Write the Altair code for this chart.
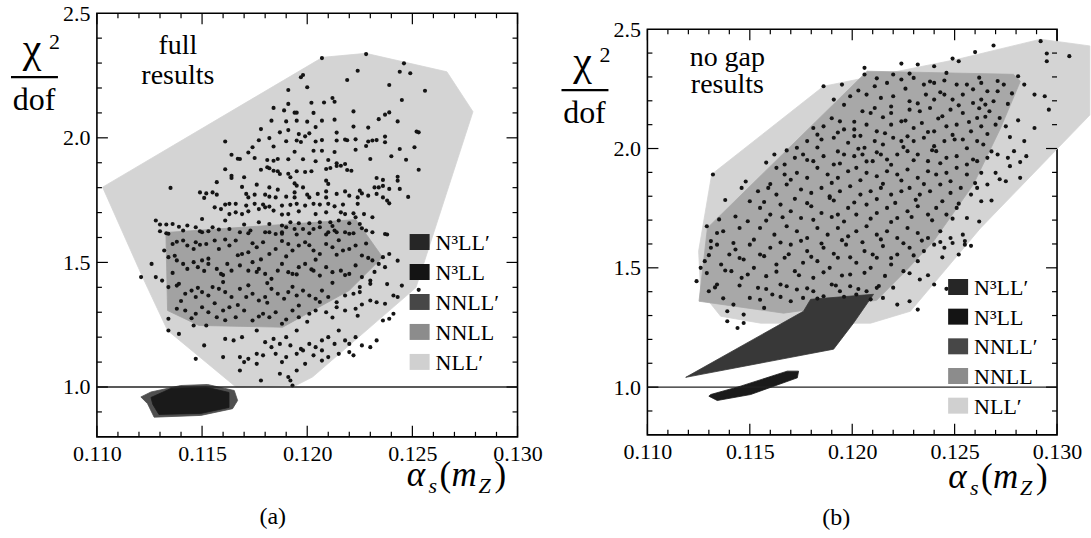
import altair as alt
import pandas as pd

# ---------------- axis ticks / labels ----------------
X_LABELS = [0.110, 0.115, 0.120, 0.125, 0.130]
X_MINOR = [0.111, 0.112, 0.113, 0.114, 0.116, 0.117, 0.118, 0.119, 0.121, 0.122,
           0.123, 0.124, 0.126, 0.127, 0.128, 0.129]
Y_LABELS = [1.0, 1.5, 2.0, 2.5]
Y_MAJOR = [1.0, 1.5, 2.0]
Y_MINOR = [0.9, 1.1, 1.2, 1.3, 1.4, 1.6, 1.7, 1.8, 1.9, 2.1, 2.2, 2.3, 2.4]

LEGEND_NAMES = ["N³LL′", "N³LL", "NNLL′", "NNLL", "NLL′"]
LEGEND_COLORS = ["#262626", "#141414", "#474747", "#8c8c8c", "#d0d0d0"]

# ---------------- panel (a): region outlines ----------------
A_NLLP_X = [0.11027, 0.12073, 0.12279, 0.12664, 0.12788, 0.12517, 0.12025, 0.11946, 0.11661, 0.11336, 0.11217]
A_NLLP_Y = [1.802, 2.323, 2.339, 2.265, 2.105, 1.399, 1.040, 1.006, 1.000, 1.227, 1.441]
A_NNLL_X = [0.11328, 0.12231, 0.12358, 0.12199, 0.11883, 0.11485, 0.11336]
A_NNLL_Y = [1.620, 1.672, 1.521, 1.387, 1.240, 1.247, 1.307]
A_NNLLP_X = [0.11209, 0.11257, 0.11399, 0.11526, 0.11653, 0.11669, 0.11645, 0.11494, 0.11272, 0.11241]
A_NNLLP_Y = [0.960, 0.980, 1.006, 1.010, 0.986, 0.946, 0.913, 0.886, 0.879, 0.933]
A_N3LL_X = [0.11257, 0.11352, 0.11518, 0.11628, 0.11628, 0.11494, 0.11295, 0.11266]
A_N3LL_Y = [0.958, 0.994, 1.000, 0.978, 0.918, 0.894, 0.890, 0.930]

# ---------------- panel (a): scan points ----------------
A_POINTS = [
    (0.1207, 2.320), (0.1228, 2.336), (0.1246, 2.299), (0.1244, 2.265), (0.1249, 2.259), (0.1224, 2.269),
    (0.1198, 2.252), (0.1197, 2.243), (0.1239, 2.212), (0.1200, 2.203), (0.1191, 2.192), (0.1212, 2.160),
    (0.1213, 2.145), (0.1191, 2.136), (0.1202, 2.141), (0.1208, 2.142), (0.1222, 2.106), (0.1239, 2.102),
    (0.1237, 2.093), (0.1234, 2.075), (0.1243, 2.066), (0.1184, 2.120), (0.1189, 2.110), (0.1194, 2.101),
    (0.1195, 2.101), (0.1203, 2.100), (0.1183, 2.069), (0.1190, 2.066), (0.1195, 2.069), (0.1200, 2.065),
    (0.1207, 2.069), (0.1222, 2.045), (0.1214, 2.021), (0.1252, 2.025), (0.1253, 2.022),
    (0.1178, 2.035), (0.1191, 2.031), (0.1196, 2.015), (0.1199, 2.006), (0.1201, 2.018), (0.1161, 1.985),
    (0.1182, 1.999), (0.1177, 1.990), (0.1190, 1.986), (0.1195, 1.989), (0.1197, 1.983), (0.1204, 1.985),
    (0.1207, 1.991), (0.1214, 1.989), (0.1218, 1.993), (0.1219, 1.990), (0.1223, 1.994), (0.1229, 1.985),
    (0.1231, 1.989), (0.1233, 1.991), (0.1237, 2.005), (0.1174, 1.962), (0.1184, 1.965), (0.1194, 1.944),
    (0.1203, 1.948), (0.1207, 1.948), (0.1213, 1.943), (0.1223, 1.952), (0.1228, 1.967), (0.1237, 1.982),
    (0.1244, 1.955), (0.1251, 1.962), (0.1164, 1.932), (0.1167, 1.916), (0.1168, 1.915), (0.1175, 1.919),
    (0.1181, 1.911), (0.1184, 1.908), (0.1186, 1.915), (0.1191, 1.914), (0.1198, 1.914), (0.1204, 1.906),
    (0.1210, 1.911), (0.1214, 1.898), (0.1216, 1.888), (0.1218, 1.895), (0.1230, 1.915), (0.1240, 1.926),
    (0.1247, 1.912), (0.1161, 1.874), (0.1164, 1.848), (0.1164, 1.839), (0.1170, 1.842), (0.1178, 1.872),
    (0.1181, 1.882), (0.1182, 1.878), (0.1184, 1.868), (0.1186, 1.866), (0.1187, 1.855), (0.1191, 1.856),
    (0.1195, 1.866), (0.1199, 1.863), (0.1202, 1.866), (0.1209, 1.875), (0.1211, 1.879), (0.1214, 1.887),
    (0.1219, 1.871), (0.1221, 1.868), (0.1233, 1.839), (0.1236, 1.831), (0.1243, 1.844), (0.1135, 1.799),
    (0.1176, 1.812), (0.1182, 1.801), (0.1186, 1.792), (0.1194, 1.817), (0.1195, 1.808), (0.1198, 1.801),
    (0.1209, 1.828), (0.1210, 1.815), (0.1218, 1.785), (0.1225, 1.788), (0.1232, 1.801), (0.1234, 1.801),
    (0.1236, 1.807), (0.1239, 1.795), (0.1243, 1.828), (0.1244, 1.795), (0.1149, 1.781), (0.1152, 1.777),
    (0.1155, 1.781), (0.1151, 1.759), (0.1157, 1.772), (0.1171, 1.775), (0.1172, 1.761), (0.1175, 1.772),
    (0.1180, 1.772), (0.1182, 1.764), (0.1185, 1.761), (0.1190, 1.764), (0.1194, 1.781), (0.1194, 1.761),
    (0.1200, 1.772), (0.1201, 1.761), (0.1205, 1.775), (0.1209, 1.785), (0.1209, 1.761), (0.1214, 1.775),
    (0.1220, 1.768), (0.1224, 1.761), (0.1226, 1.777), (0.1229, 1.768), (0.1233, 1.775), (0.1236, 1.761),
    (0.1238, 1.748), (0.1161, 1.732), (0.1163, 1.735), (0.1166, 1.735), (0.1171, 1.728), (0.1175, 1.735),
    (0.1179, 1.732), (0.1182, 1.724), (0.1188, 1.728), (0.1192, 1.731), (0.1195, 1.735), (0.1199, 1.728),
    (0.1203, 1.735), (0.1206, 1.732), (0.1210, 1.735), (0.1213, 1.725), (0.1217, 1.732), (0.1224, 1.735),
    (0.1239, 1.737), (0.1156, 1.721), (0.1159, 1.714), (0.1163, 1.694), (0.1166, 1.701), (0.1169, 1.694),
    (0.1172, 1.705), (0.1177, 1.714), (0.1180, 1.721), (0.1184, 1.708), (0.1188, 1.692), (0.1191, 1.694),
    (0.1196, 1.705), (0.1204, 1.694), (0.1209, 1.701), (0.1216, 1.701), (0.1218, 1.694), (0.1222, 1.697),
    (0.1223, 1.681), (0.1227, 1.694), (0.1231, 1.681), (0.1128, 1.668), (0.1130, 1.652), (0.1133, 1.652),
    (0.1136, 1.654), (0.1143, 1.648), (0.1147, 1.641), (0.1150, 1.674), (0.1153, 1.625), (0.1155, 1.641),
    (0.1161, 1.668), (0.1177, 1.661), (0.1182, 1.654), (0.1188, 1.648), (0.1192, 1.661), (0.1196, 1.657),
    (0.1201, 1.657), (0.1206, 1.661), (0.1211, 1.661), (0.1215, 1.668), (0.1220, 1.657), (0.1225, 1.654),
    (0.1130, 1.625), (0.1133, 1.617), (0.1149, 1.625), (0.1163, 1.634), (0.1168, 1.621), (0.1173, 1.628),
    (0.1182, 1.621), (0.1185, 1.614), (0.1188, 1.621), (0.1194, 1.634), (0.1198, 1.634), (0.1203, 1.634),
    (0.1206, 1.641), (0.1210, 1.621), (0.1213, 1.628), (0.1218, 1.621), (0.1222, 1.617), (0.1228, 1.628),
    (0.1231, 1.621), (0.1237, 1.614),
    (0.1134, 1.615), (0.1141, 1.628), (0.1150, 1.621), (0.1172, 1.617), (0.1180, 1.621), (0.1188, 1.615),
    (0.1195, 1.612), (0.1201, 1.617), (0.1209, 1.612), (0.1214, 1.621), (0.1220, 1.615), (0.1238, 1.612),
    (0.1126, 1.494), (0.1121, 1.441), (0.1128, 1.441), (0.1132, 1.548), (0.1136, 1.574), (0.1141, 1.588),
    (0.1143, 1.568), (0.1146, 1.554), (0.1147, 1.581), (0.1152, 1.574), (0.1156, 1.588), (0.1158, 1.554),
    (0.1163, 1.568), (0.1166, 1.588), (0.1169, 1.534), (0.1172, 1.541), (0.1176, 1.561), (0.1179, 1.581),
    (0.1182, 1.534), (0.1185, 1.554), (0.1191, 1.574), (0.1193, 1.548), (0.1196, 1.568), (0.1199, 1.581),
    (0.1203, 1.548), (0.1206, 1.534), (0.1209, 1.574), (0.1212, 1.561), (0.1217, 1.548), (0.1220, 1.554),
    (0.1223, 1.568), (0.1226, 1.528), (0.1231, 1.508), (0.1236, 1.521), (0.1239, 1.534), (0.1134, 1.521),
    (0.1138, 1.508), (0.1141, 1.494), (0.1143, 1.474), (0.1146, 1.501), (0.1148, 1.481), (0.1150, 1.508),
    (0.1153, 1.494), (0.1157, 1.474), (0.1159, 1.454), (0.1162, 1.494), (0.1164, 1.467), (0.1168, 1.488),
    (0.1172, 1.467), (0.1174, 1.501), (0.1177, 1.474), (0.1180, 1.454), (0.1183, 1.434), (0.1186, 1.467),
    (0.1188, 1.494), (0.1191, 1.461), (0.1193, 1.454), (0.1196, 1.481), (0.1199, 1.494), (0.1203, 1.467),
    (0.1206, 1.447), (0.1209, 1.481), (0.1212, 1.461), (0.1216, 1.467), (0.1220, 1.454), (0.1223, 1.488),
    (0.1226, 1.441), (0.1230, 1.427), (0.1234, 1.494), (0.1237, 1.481), (0.1131, 1.427), (0.1134, 1.401),
    (0.1138, 1.407), (0.1142, 1.374), (0.1145, 1.387), (0.1147, 1.361), (0.1150, 1.381), (0.1153, 1.367),
    (0.1155, 1.401), (0.1158, 1.394), (0.1161, 1.381), (0.1164, 1.361), (0.1168, 1.394), (0.1171, 1.361),
    (0.1174, 1.374), (0.1177, 1.347), (0.1180, 1.361), (0.1183, 1.394), (0.1186, 1.374), (0.1189, 1.354),
    (0.1191, 1.381), (0.1195, 1.367), (0.1198, 1.387), (0.1201, 1.367), (0.1204, 1.354), (0.1207, 1.387),
    (0.1210, 1.361), (0.1214, 1.340), (0.1218, 1.367), (0.1222, 1.374), (0.1225, 1.381), (0.1230, 1.414),
    (0.1233, 1.340), (0.1237, 1.334), (0.1241, 1.367), (0.1243, 1.361), (0.1245, 1.407), (0.1253, 1.390),
    (0.1138, 1.314), (0.1142, 1.307), (0.1147, 1.294), (0.1150, 1.320), (0.1153, 1.300), (0.1157, 1.280),
    (0.1160, 1.307), (0.1163, 1.320), (0.1166, 1.280), (0.1170, 1.307), (0.1174, 1.267), (0.1179, 1.294),
    (0.1182, 1.280), (0.1185, 1.300), (0.1188, 1.254), (0.1193, 1.307), (0.1196, 1.280), (0.1201, 1.294),
    (0.1204, 1.307), (0.1209, 1.300), (0.1214, 1.320), (0.1218, 1.307), (0.1223, 1.314), (0.1230, 1.347),
    (0.1236, 1.267), (0.1239, 1.274), (0.1241, 1.294), (0.1134, 1.227), (0.1134, 1.274), (0.1139, 1.213),
    (0.1146, 1.247), (0.1151, 1.167), (0.1152, 1.247), (0.1161, 1.193), (0.1165, 1.187), (0.1169, 1.200),
    (0.1176, 1.227), (0.1180, 1.180), (0.1184, 1.193), (0.1187, 1.173), (0.1190, 1.200), (0.1192, 1.167),
    (0.1195, 1.227), (0.1197, 1.153), (0.1201, 1.173), (0.1204, 1.160), (0.1207, 1.187), (0.1210, 1.200),
    (0.1213, 1.173), (0.1215, 1.227), (0.1218, 1.187), (0.1220, 1.173), (0.1223, 1.200), (0.1226, 1.167),
    (0.1230, 1.160), (0.1233, 1.187), (0.1147, 1.113), (0.1160, 1.120), (0.1168, 1.120), (0.1170, 1.100),
    (0.1172, 1.113), (0.1176, 1.133), (0.1179, 1.127), (0.1183, 1.160), (0.1185, 1.133), (0.1188, 1.100),
    (0.1190, 1.120), (0.1195, 1.133), (0.1198, 1.147), (0.1203, 1.127), (0.1207, 1.147), (0.1210, 1.120),
    (0.1215, 1.133), (0.1220, 1.140), (0.1222, 1.127), (0.1168, 1.066), (0.1176, 1.093), (0.1178, 1.026),
    (0.1187, 1.053), (0.1191, 1.040), (0.1192, 1.026), (0.1195, 1.066), (0.1199, 1.093), (0.1207, 1.106),
    (0.1193, 1.006),
    (0.1139, 1.643), (0.1158, 1.632), (0.1170, 1.652), (0.1190, 1.641), (0.1212, 1.646), (0.1226, 1.637),
    (0.1138, 1.583), (0.1149, 1.571), (0.1161, 1.592), (0.1174, 1.577), (0.1188, 1.586), (0.1201, 1.569),
    (0.1215, 1.589), (0.1228, 1.576), (0.1137, 1.527), (0.1153, 1.515), (0.1167, 1.529), (0.1178, 1.512),
    (0.1190, 1.524), (0.1204, 1.511), (0.1214, 1.531), (0.1229, 1.518), (0.1243, 1.507), (0.1136, 1.458),
    (0.1151, 1.466), (0.1160, 1.449), (0.1176, 1.462), (0.1195, 1.452), (0.1202, 1.472), (0.1218, 1.449),
    (0.1232, 1.462), (0.1139, 1.414), (0.1148, 1.398), (0.1160, 1.421), (0.1172, 1.408), (0.1181, 1.417),
    (0.1193, 1.402), (0.1212, 1.418), (0.1225, 1.401), (0.1238, 1.413), (0.1140, 1.345), (0.1156, 1.336),
    (0.1167, 1.329), (0.1181, 1.338), (0.1196, 1.327), (0.1206, 1.341), (0.1226, 1.331), (0.1145, 1.276),
    (0.1161, 1.268), (0.1177, 1.283), (0.1190, 1.271), (0.1200, 1.262), (0.1212, 1.279), (0.1224, 1.286),
    (0.1172, 1.941), (0.1187, 2.022), (0.1213, 2.073), (0.1229, 2.041), (0.1245, 2.152), (0.1256, 2.189),
    (0.1219, 2.232), (0.1204, 2.043), (0.1192, 1.842), (0.1169, 1.803), (0.1157, 1.822), (0.1253, 1.872),
    (0.1248, 1.763),
]

# ---------------- panel (b): region outlines ----------------
B_NLLP_X = [0.11314, 0.11860, 0.12514, 0.12919, 0.13160, 0.13160, 0.12626, 0.12284, 0.12090, 0.11553, 0.11358, 0.11260, 0.11250]
B_NLLP_Y = [1.892, 2.261, 2.374, 2.458, 2.430, 2.140, 1.666, 1.318, 1.268, 1.268, 1.297, 1.402, 1.570]
B_NNLL_X = [0.11252, 0.11293, 0.12073, 0.12787, 0.12821, 0.12724, 0.12592, 0.12397, 0.12260, 0.12119, 0.11665]
B_NNLL_Y = [1.360, 1.667, 2.324, 2.311, 2.282, 2.085, 1.850, 1.611, 1.486, 1.364, 1.310]
B_NNLLP_X = [0.11187, 0.11762, 0.11797, 0.12104, 0.12006, 0.11909]
B_NNLLP_Y = [1.041, 1.318, 1.368, 1.389, 1.268, 1.159]
B_N3LL_X = [0.11300, 0.11341, 0.11504, 0.11732, 0.11738, 0.11683, 0.11455, 0.11309]
B_N3LL_Y = [0.962, 0.944, 0.969, 1.039, 1.067, 1.067, 1.004, 0.969]

# ---------------- panel (b): scan points ----------------
B_POINTS = [
    (0.1269, 2.432), (0.1292, 2.450), (0.1260, 2.404), (0.1295, 2.398), (0.1295, 2.366), (0.1306, 2.387),
    (0.1249, 2.377), (0.1252, 2.366), (0.1224, 2.356), (0.1232, 2.352), (0.1240, 2.345), (0.1206, 2.338),
    (0.1206, 2.310), (0.1220, 2.310), (0.1228, 2.314), (0.1246, 2.317), (0.1281, 2.303), (0.1284, 2.268),
    (0.1195, 2.268), (0.1186, 2.261), (0.1211, 2.261), (0.1217, 2.275), (0.1224, 2.289), (0.1230, 2.296),
    (0.1235, 2.268), (0.1240, 2.275), (0.1245, 2.285), (0.1251, 2.268), (0.1256, 2.268), (0.1263, 2.275),
    (0.1266, 2.240), (0.1271, 2.240), (0.1274, 2.268), (0.1191, 2.205), (0.1199, 2.219), (0.1207, 2.226),
    (0.1214, 2.212), (0.1220, 2.219), (0.1228, 2.198), (0.1236, 2.226), (0.1240, 2.205), (0.1245, 2.226),
    (0.1249, 2.205), (0.1254, 2.226), (0.1259, 2.191), (0.1263, 2.205), (0.1265, 2.184), (0.1269, 2.198),
    (0.1289, 2.226), (0.1294, 2.219), (0.1296, 2.163), (0.1205, 2.156), (0.1209, 2.149), (0.1211, 2.170),
    (0.1219, 2.149), (0.1228, 2.163), (0.1233, 2.156), (0.1238, 2.170), (0.1244, 2.135), (0.1248, 2.163),
    (0.1254, 2.149), (0.1261, 2.128), (0.1267, 2.156), (0.1272, 2.128), (0.1181, 2.086), (0.1186, 2.093),
    (0.1194, 2.114), (0.1196, 2.080), (0.1201, 2.080), (0.1207, 2.100), (0.1212, 2.072), (0.1219, 2.100),
    (0.1224, 2.114), (0.1230, 2.086), (0.1234, 2.107), (0.1240, 2.072), (0.1246, 2.093), (0.1251, 2.100),
    (0.1258, 2.072), (0.1263, 2.093), (0.1270, 2.100), (0.1275, 2.093), (0.1289, 2.086), (0.1173, 2.003),
    (0.1178, 2.031), (0.1185, 2.038), (0.1191, 2.045), (0.1198, 2.024), (0.1201, 2.052), (0.1206, 2.003),
    (0.1211, 2.031), (0.1215, 2.017), (0.1220, 2.045), (0.1224, 2.031), (0.1230, 2.031), (0.1235, 2.045),
    (0.1240, 2.010), (0.1245, 2.031), (0.1250, 2.038), (0.1254, 2.038), (0.1261, 2.031), (0.1264, 2.017),
    (0.1279, 1.989), (0.1284, 2.031), (0.1285, 1.968), (0.1162, 1.975), (0.1167, 1.933), (0.1172, 1.961),
    (0.1176, 1.975), (0.1181, 1.947), (0.1186, 1.968), (0.1191, 1.933), (0.1196, 1.975), (0.1201, 1.968),
    (0.1205, 1.975), (0.1210, 1.947), (0.1214, 1.975), (0.1217, 1.954), (0.1222, 1.975), (0.1227, 1.989),
    (0.1232, 1.975), (0.1237, 1.947), (0.1241, 1.989), (0.1246, 1.961), (0.1251, 1.968), (0.1256, 1.933),
    (0.1261, 1.947), (0.1266, 1.961), (0.1271, 1.975), (0.1276, 1.961), (0.1277, 1.926), (0.1146, 1.835),
    (0.1132, 1.891), (0.1163, 1.919), (0.1167, 1.891), (0.1173, 1.898), (0.1178, 1.877), (0.1183, 1.919),
    (0.1188, 1.891), (0.1193, 1.877), (0.1198, 1.905), (0.1202, 1.919), (0.1207, 1.898), (0.1212, 1.884),
    (0.1217, 1.905), (0.1222, 1.891), (0.1227, 1.912), (0.1232, 1.877), (0.1237, 1.905), (0.1241, 1.891),
    (0.1246, 1.898), (0.1251, 1.919), (0.1256, 1.891), (0.1263, 1.898), (0.1266, 1.849), (0.1270, 1.898),
    (0.1275, 1.863), (0.1282, 1.877), (0.1154, 1.821), (0.1159, 1.835), (0.1163, 1.807), (0.1168, 1.849),
    (0.1175, 1.828), (0.1180, 1.814), (0.1185, 1.835), (0.1189, 1.800), (0.1194, 1.821), (0.1199, 1.842),
    (0.1204, 1.807), (0.1209, 1.821), (0.1214, 1.835), (0.1219, 1.807), (0.1224, 1.821), (0.1228, 1.835),
    (0.1233, 1.807), (0.1238, 1.821), (0.1243, 1.849), (0.1248, 1.814), (0.1253, 1.835), (0.1258, 1.807),
    (0.1263, 1.779), (0.1261, 1.835), (0.1129, 1.674), (0.1134, 1.646), (0.1137, 1.653), (0.1145, 1.667),
    (0.1150, 1.779), (0.1155, 1.751), (0.1160, 1.723), (0.1165, 1.765), (0.1170, 1.737), (0.1175, 1.709),
    (0.1180, 1.758), (0.1185, 1.730), (0.1189, 1.793), (0.1193, 1.723), (0.1198, 1.751), (0.1202, 1.723),
    (0.1207, 1.765), (0.1212, 1.730), (0.1217, 1.751), (0.1222, 1.709), (0.1227, 1.737), (0.1232, 1.758),
    (0.1237, 1.723), (0.1241, 1.751), (0.1246, 1.723), (0.1251, 1.751), (0.1256, 1.709), (0.1254, 1.639),
    (0.1149, 1.695), (0.1155, 1.667), (0.1162, 1.639), (0.1168, 1.674), (0.1173, 1.653), (0.1178, 1.625),
    (0.1183, 1.667), (0.1188, 1.639), (0.1193, 1.667), (0.1198, 1.632), (0.1202, 1.653), (0.1207, 1.674),
    (0.1212, 1.639), (0.1217, 1.653), (0.1222, 1.625), (0.1227, 1.667), (0.1232, 1.646), (0.1237, 1.625),
    (0.1243, 1.653), (0.1248, 1.625),
    (0.1126, 1.500), (0.1124, 1.444), (0.1128, 1.528), (0.1131, 1.584), (0.1134, 1.597), (0.1136, 1.514),
    (0.1140, 1.556), (0.1141, 1.486), (0.1143, 1.577), (0.1146, 1.458), (0.1147, 1.535), (0.1150, 1.597),
    (0.1152, 1.500), (0.1155, 1.556), (0.1158, 1.465), (0.1160, 1.584), (0.1163, 1.514), (0.1167, 1.542),
    (0.1170, 1.597), (0.1172, 1.486), (0.1176, 1.521), (0.1178, 1.570), (0.1181, 1.458), (0.1183, 1.528),
    (0.1186, 1.584), (0.1189, 1.500), (0.1193, 1.542), (0.1197, 1.597), (0.1199, 1.472), (0.1202, 1.521),
    (0.1206, 1.570), (0.1209, 1.500), (0.1212, 1.542), (0.1215, 1.591), (0.1219, 1.514), (0.1222, 1.556),
    (0.1225, 1.486), (0.1228, 1.584), (0.1232, 1.528), (0.1235, 1.570), (0.1240, 1.597), (0.1245, 1.584),
    (0.1249, 1.604), (0.1255, 1.612), (0.1255, 1.597), (0.1130, 1.402), (0.1134, 1.430), (0.1139, 1.318),
    (0.1142, 1.346), (0.1147, 1.304), (0.1150, 1.374), (0.1154, 1.416), (0.1157, 1.332), (0.1161, 1.388),
    (0.1165, 1.430), (0.1170, 1.360), (0.1173, 1.409), (0.1176, 1.374), (0.1181, 1.402), (0.1186, 1.381),
    (0.1190, 1.430), (0.1194, 1.402), (0.1199, 1.423), (0.1202, 1.388), (0.1207, 1.402), (0.1212, 1.416),
    (0.1215, 1.374), (0.1222, 1.346), (0.1228, 1.360), (0.1232, 1.325), (0.1233, 1.451), (0.1240, 1.430),
    (0.1139, 1.276), (0.1147, 1.269), (0.1144, 1.248),
    (0.1212, 2.294), (0.1238, 2.281), (0.1262, 2.297), (0.1271, 2.283), (0.1203, 2.243), (0.1226, 2.251),
    (0.1243, 2.236), (0.1259, 2.248), (0.1278, 2.231), (0.1196, 2.183), (0.1219, 2.176), (0.1232, 2.189),
    (0.1252, 2.181), (0.1262, 2.169), (0.1276, 2.187), (0.1190, 2.127), (0.1201, 2.112), (0.1215, 2.131),
    (0.1226, 2.117), (0.1242, 2.126), (0.1257, 2.111), (0.1265, 2.133), (0.1281, 2.118), (0.1183, 2.058),
    (0.1193, 2.067), (0.1204, 2.053), (0.1216, 2.064), (0.1227, 2.051), (0.1237, 2.069), (0.1249, 2.057),
    (0.1266, 2.061), (0.1277, 2.048), (0.1168, 1.992), (0.1183, 2.004), (0.1193, 1.988), (0.1203, 1.999),
    (0.1212, 1.984), (0.1225, 2.006), (0.1239, 1.993), (0.1256, 2.001), (0.1268, 1.988), (0.1158, 1.941),
    (0.1178, 1.952), (0.1194, 1.937), (0.1207, 1.946), (0.1219, 1.932), (0.1230, 1.951), (0.1243, 1.938),
    (0.1259, 1.954), (0.1282, 1.943), (0.1148, 1.862), (0.1160, 1.851), (0.1170, 1.869), (0.1190, 1.856),
    (0.1204, 1.867), (0.1215, 1.852), (0.1224, 1.866), (0.1235, 1.851), (0.1248, 1.863), (0.1260, 1.855),
    (0.1272, 1.871), (0.1138, 1.784), (0.1157, 1.776), (0.1172, 1.789), (0.1178, 1.771), (0.1191, 1.782),
    (0.1201, 1.774), (0.1212, 1.788), (0.1221, 1.772), (0.1231, 1.785), (0.1244, 1.779), (0.1252, 1.769),
    (0.1268, 1.782), (0.1135, 1.703), (0.1143, 1.715), (0.1158, 1.698), (0.1166, 1.712), (0.1181, 1.701),
    (0.1190, 1.713), (0.1196, 1.694), (0.1209, 1.706), (0.1219, 1.692), (0.1229, 1.713), (0.1239, 1.699),
    (0.1249, 1.706), (0.1262, 1.694), (0.1131, 1.612), (0.1142, 1.604), (0.1152, 1.618), (0.1165, 1.606),
    (0.1175, 1.613), (0.1185, 1.602), (0.1195, 1.616), (0.1205, 1.607), (0.1214, 1.619), (0.1225, 1.603),
    (0.1234, 1.614), (0.1243, 1.608), (0.1258, 1.592), (0.1130, 1.553), (0.1145, 1.541), (0.1157, 1.549),
    (0.1169, 1.557), (0.1180, 1.546), (0.1191, 1.559), (0.1199, 1.544), (0.1210, 1.556), (0.1219, 1.541),
    (0.1230, 1.552), (0.1244, 1.544), (0.1252, 1.556), (0.1129, 1.478), (0.1138, 1.489), (0.1149, 1.472),
    (0.1163, 1.484), (0.1174, 1.469), (0.1186, 1.481), (0.1195, 1.468), (0.1206, 1.479), (0.1216, 1.466),
    (0.1228, 1.477), (0.1237, 1.469), (0.1133, 1.418), (0.1145, 1.426), (0.1158, 1.411), (0.1168, 1.423),
    (0.1178, 1.414), (0.1192, 1.426), (0.1203, 1.411), (0.1213, 1.424), (0.1220, 1.417), (0.1246, 1.412),
    (0.1252, 1.423), (0.1137, 1.372), (0.1155, 1.366), (0.1165, 1.378), (0.1183, 1.371), (0.1196, 1.379),
    (0.1209, 1.368),
]

# ---------------- styling constants ----------------
SERIF = "Liberation Serif, Times New Roman, DejaVu Serif, serif"
XS = alt.Scale(domain=[0.110, 0.130], nice=False, zero=False)
YS = alt.Scale(domain=[0.8, 2.5], nice=False, zero=False)
XAX = alt.Axis(values=X_LABELS, format=".3f", labelPadding=7, ticks=False, domain=False, grid=False,
               title="", labelFont=SERIF, labelFontSize=22, labelColor="black",
               labelFlush=False, labelOverlap=False)
YAX = alt.Axis(values=Y_LABELS, format=".1f", labelPadding=7, ticks=False, domain=False, grid=False,
               title="", labelFont=SERIF, labelFontSize=22, labelColor="black",
               labelFlush=False, labelOverlap=False)


def X(field):
    return alt.X(field, type="quantitative", scale=XS, axis=XAX)


def Y(field):
    return alt.Y(field, type="quantitative", scale=YS, axis=YAX)


def poly(xs, ys, color):
    df = pd.DataFrame({"x": xs, "y": ys, "i": list(range(len(xs)))})
    return alt.Chart(df).mark_line(interpolate="linear-closed", fill=color, stroke=color,
                                   strokeWidth=0.8, strokeJoin="round").encode(
        x=X("x"), y=Y("y"), order=alt.Order("i:Q"))


def dots(pts):
    df = pd.DataFrame({"x": [p[0] for p in pts], "y": [p[1] for p in pts]})
    return alt.Chart(df).mark_circle(size=17, color="#141414", opacity=1).encode(x=X("x"), y=Y("y"))


def txt(s, x, y, size, style="normal", align="left", baseline="alphabetic"):
    return alt.Chart(alt.Data(values=[{"t": s}])).mark_text(
        align=align, baseline=baseline, fontSize=size, font=SERIF, fontStyle=style, color="black"
    ).encode(x=alt.value(x), y=alt.value(y), text=alt.Text("t:N"))


def ticks(W, H):
    layers = []
    for vals, ln in ((X_LABELS, 11), (X_MINOR, 5)):
        d = pd.DataFrame({"v": vals})
        layers.append(alt.Chart(d).mark_rule(color="black", strokeWidth=1.2).encode(
            x=X("v"), y=alt.value(H), y2=alt.value(H - ln)))
        layers.append(alt.Chart(d).mark_rule(color="black", strokeWidth=1.2).encode(
            x=X("v"), y=alt.value(0), y2=alt.value(ln)))
    for vals, ln in ((Y_MAJOR, 11), (Y_MINOR, 5)):
        d = pd.DataFrame({"v": vals})
        layers.append(alt.Chart(d).mark_rule(color="black", strokeWidth=1.2).encode(
            y=Y("v"), x=alt.value(0), x2=alt.value(ln)))
        layers.append(alt.Chart(d).mark_rule(color="black", strokeWidth=1.2).encode(
            y=Y("v"), x=alt.value(W), x2=alt.value(W - ln)))
    return layers


def legend(x0, y0, step):
    layers = []
    for k, (name, col) in enumerate(zip(LEGEND_NAMES, LEGEND_COLORS)):
        yc = y0 + k * step
        layers.append(alt.Chart(alt.Data(values=[{"t": name}])).mark_rect(color=col).encode(
            x=alt.value(x0), x2=alt.value(x0 + 20), y=alt.value(yc - 8), y2=alt.value(yc + 8)))
        layers.append(txt(name, x0 + 26, yc + 1, 22, baseline="middle"))
    return layers


def ylabel(bar_y):
    return [
        txt("χ", -65, bar_y - 15, 42, align="center"),
        txt("2", -48, bar_y - 28, 22),
        alt.Chart(alt.Data(values=[{"t": 0}])).mark_rule(color="black", strokeWidth=2.2).encode(
            x=alt.value(-86), x2=alt.value(-39), y=alt.value(bar_y), y2=alt.value(bar_y)),
        txt("dof", -63, bar_y + 33, 32, align="center"),
    ]


def xlabel(x0, base):
    return [
        txt("α", x0, base, 35, style="italic"),
        txt("s", x0 + 22, base + 7, 22, style="italic"),
        txt("(", x0 + 33, base, 35),
        txt("m", x0 + 45, base, 35, style="italic"),
        txt("Z", x0 + 72, base + 7, 22, style="italic"),
        txt(")", x0 + 88, base, 35),
    ]


def one_line(W):
    d = pd.DataFrame({"v": [1.0]})
    return alt.Chart(d).mark_rule(color="#222222", strokeWidth=1.4).encode(
        y=Y("v"), x=alt.value(0), x2=alt.value(W))


# ---------------- panel (a) ----------------
WA, HA = 421, 424
pin = alt.Chart(alt.Data(values=[{"t": 0}])).mark_rule(color="white", opacity=0, strokeWidth=1).encode(
    x=alt.value(-96), x2=alt.value(-95), y=alt.value(-12), y2=alt.value(-12))
layers_a = [
    poly(A_NLLP_X, A_NLLP_Y, "#d4d4d4"),
    poly(A_NNLL_X, A_NNLL_Y, "#a2a2a2"),
    poly(A_NNLLP_X, A_NNLLP_Y, "#4f4f4f"),
    poly(A_N3LL_X, A_N3LL_Y, "#1a1a1a"),
    dots(A_POINTS),
    one_line(WA),
] + ticks(WA, HA) + legend(313, 229, 30) + ylabel(64) + [
    txt("full", 81, 41, 28, align="center"),
    txt("results", 81, 71, 28, align="center"),
] + xlabel(310, 473) + [txt("(a)", 176, 511, 24, align="center"), pin]
panel_a = alt.layer(*layers_a).properties(width=WA, height=HA)

# ---------------- panel (b) ----------------
WB, HB = 410, 406
layers_b = [
    poly(B_NLLP_X, B_NLLP_Y, "#d4d4d4"),
    poly(B_NNLL_X, B_NNLL_Y, "#a8a8a8"),
    poly(B_NNLLP_X, B_NNLLP_Y, "#383838"),
    poly(B_N3LL_X, B_N3LL_Y, "#1a1a1a"),
    dots(B_POINTS),
    one_line(WB),
] + ticks(WB, HB) + legend(301, 258, 29.7) + ylabel(61) + [
    txt("no gap", 80, 37, 28, align="center"),
    txt("results", 80, 64, 28, align="center"),
] + xlabel(301, 459) + [txt("(b)", 189, 496, 24, align="center")]
panel_b = alt.layer(*layers_b).properties(width=WB, height=HB)

spacer = alt.Chart(alt.Data(values=[{"t": ""}])).mark_text().encode(
    text=alt.Text("t:N"), x=alt.value(0), y=alt.value(0)
).properties(width=WB, height=15.5, view=alt.ViewBackground(stroke="transparent"))

right = alt.vconcat(spacer, panel_b, spacing=0, bounds="flush")

chart = alt.hconcat(panel_a, right, spacing=130, bounds="flush").properties(
    padding=0, background="white"
).configure_view(stroke="black", strokeWidth=1.6)

chart.save("out.html", embed_options={"renderer": "svg", "actions": False})
